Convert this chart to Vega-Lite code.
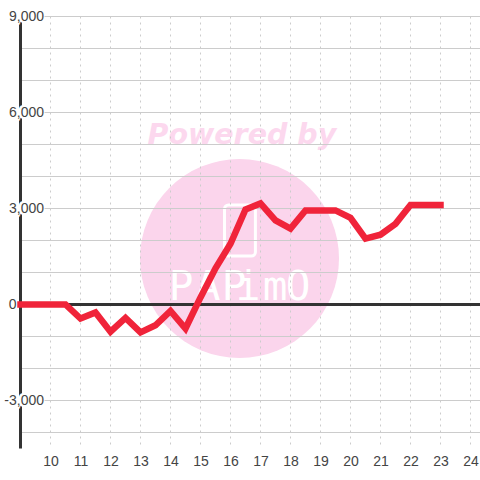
{"$schema":"https://vega.github.io/schema/vega-lite/v6.json","width":460,"height":432,"padding":{"left":20.5,"top":16.5,"right":0,"bottom":31},"autosize":{"type":"none"},"background":"white","config":{"view":{"stroke":null},"text":{"font":"Liberation Sans"}},"resolve":{"axis":{"x":"independent","y":"independent"}},"datasets":{"series":[{"h":9,"v":0},{"h":9.5,"v":0},{"h":10,"v":0},{"h":10.5,"v":0},{"h":11,"v":-440},{"h":11.5,"v":-250},{"h":12,"v":-850},{"h":12.5,"v":-420},{"h":13,"v":-870},{"h":13.5,"v":-650},{"h":14,"v":-200},{"h":14.5,"v":-750},{"h":15,"v":220},{"h":15.5,"v":1130},{"h":16,"v":1900},{"h":16.5,"v":2970},{"h":17,"v":3160},{"h":17.5,"v":2630},{"h":18,"v":2370},{"h":18.5,"v":2940},{"h":19,"v":2940},{"h":19.5,"v":2940},{"h":20,"v":2710},{"h":20.5,"v":2060},{"h":21,"v":2180},{"h":21.5,"v":2520},{"h":22,"v":3110},{"h":22.5,"v":3110},{"h":23,"v":3110}],"yticks":[{"v":-4000},{"v":-3000},{"v":-2000},{"v":-1000},{"v":0},{"v":1000},{"v":2000},{"v":3000},{"v":4000},{"v":5000},{"v":6000},{"v":7000},{"v":8000},{"v":9000}],"xticks":[{"h":10},{"h":11},{"h":12},{"h":13},{"h":14},{"h":15},{"h":16},{"h":17},{"h":18},{"h":19},{"h":20},{"h":21},{"h":22},{"h":23},{"h":24}],"ylabels":[{"v":-3000},{"v":3000},{"v":6000},{"v":9000}]},"layer":[{"data":{"values":[{"h":16.3,"v":1437}]},"mark":{"type":"point","shape":"circle","filled":true,"fill":"#fbd5ec","opacity":1,"size":39601,"clip":false},"encoding":{"x":{"field":"h","type":"quantitative","scale":{"domain":[9,24.3333],"nice":false,"zero":false},"axis":null},"y":{"field":"v","type":"quantitative","scale":{"domain":[-4500,9000],"nice":false,"zero":false},"axis":null}}},{"data":{"values":[{"h":16.38,"v":5312,"t":"Powered by"}]},"mark":{"type":"text","font":"DejaVu Sans","fontWeight":"bold","fontStyle":"italic","fontSize":28.5,"fill":"#fcd8ee","align":"center","baseline":"middle"},"encoding":{"x":{"field":"h","type":"quantitative","axis":null},"y":{"field":"v","type":"quantitative","axis":null},"text":{"field":"t"}}},{"data":{"values":[{"h":15.8,"h2":16.83,"v":3110,"v2":1515}]},"mark":{"type":"rect","fillOpacity":0,"stroke":"white","strokeWidth":3,"cornerRadius":4},"encoding":{"x":{"field":"h","type":"quantitative","axis":null},"x2":{"field":"h2"},"y":{"field":"v","type":"quantitative","axis":null},"y2":{"field":"v2"}}},{"data":{"values":[{"h":14.35,"v":515,"t":"P"},{"h":15.25,"v":515,"t":"A"},{"h":16.12,"v":515,"t":"P"},{"h":16.59,"v":515,"t":"i"},{"h":17.49,"v":515,"t":"m"},{"h":18.25,"v":515,"t":"O"}]},"mark":{"type":"text","font":"DejaVu Sans Mono","fontSize":41,"fill":"white","align":"center","baseline":"middle"},"encoding":{"x":{"field":"h","type":"quantitative","axis":null},"y":{"field":"v","type":"quantitative","axis":null},"text":{"field":"t"}}},{"data":{"name":"yticks"},"mark":{"type":"rule","color":"#cccccc","strokeWidth":1},"encoding":{"y":{"field":"v","type":"quantitative","axis":null}}},{"data":{"name":"xticks"},"mark":{"type":"rule","color":"#cccccc","strokeWidth":1,"strokeDash":[2,4]},"encoding":{"x":{"field":"h","type":"quantitative","axis":null}}},{"data":{"values":[{"v":0}]},"mark":{"type":"rule","color":"#333333","strokeWidth":3},"encoding":{"y":{"field":"v","type":"quantitative","axis":null}}},{"data":{"values":[{"h":9}]},"mark":{"type":"rule","color":"#333333","strokeWidth":3},"encoding":{"x":{"field":"h","type":"quantitative","axis":null}}},{"data":{"name":"ylabels"},"mark":{"type":"text","stroke":"white","strokeWidth":4,"fill":"white","fontSize":14,"align":"right","baseline":"middle"},"encoding":{"x":{"datum":9.75,"type":"quantitative","axis":null},"y":{"field":"v","type":"quantitative","axis":null},"text":{"field":"v","type":"quantitative","format":","}}},{"data":{"name":"series"},"mark":{"type":"line","color":"#f0243a","strokeWidth":6.5,"strokeCap":"square","strokeJoin":"miter","clip":false},"encoding":{"x":{"field":"h","type":"quantitative","axis":{"orient":"bottom","values":[10,11,12,13,14,15,16,17,18,19,20,21,22,23,24],"title":null,"domain":false,"ticks":false,"grid":false,"labelFont":"Liberation Sans","labelFontSize":14,"labelColor":"#444444","labelPadding":6,"labelFlush":false,"labelOverlap":false,"zindex":1}},"y":{"field":"v","type":"quantitative","axis":{"orient":"left","values":[-3000,3000,6000,9000],"title":null,"domain":false,"ticks":false,"grid":false,"labelFont":"Liberation Sans","labelFontSize":14,"labelColor":"#444444","labelPadding":-23,"labelExpr":"replace(format(datum.value, ','), '−', '-')","labelAlign":"right","labelOverlap":false,"zindex":1}}}},{"data":{"values":[{"v":0}]},"mark":{"type":"text","fill":"#444444","fontSize":14,"align":"right","baseline":"middle"},"encoding":{"x":{"datum":8.87,"type":"quantitative","axis":null},"y":{"field":"v","type":"quantitative","axis":null},"text":{"field":"v","type":"quantitative"}}}]}
